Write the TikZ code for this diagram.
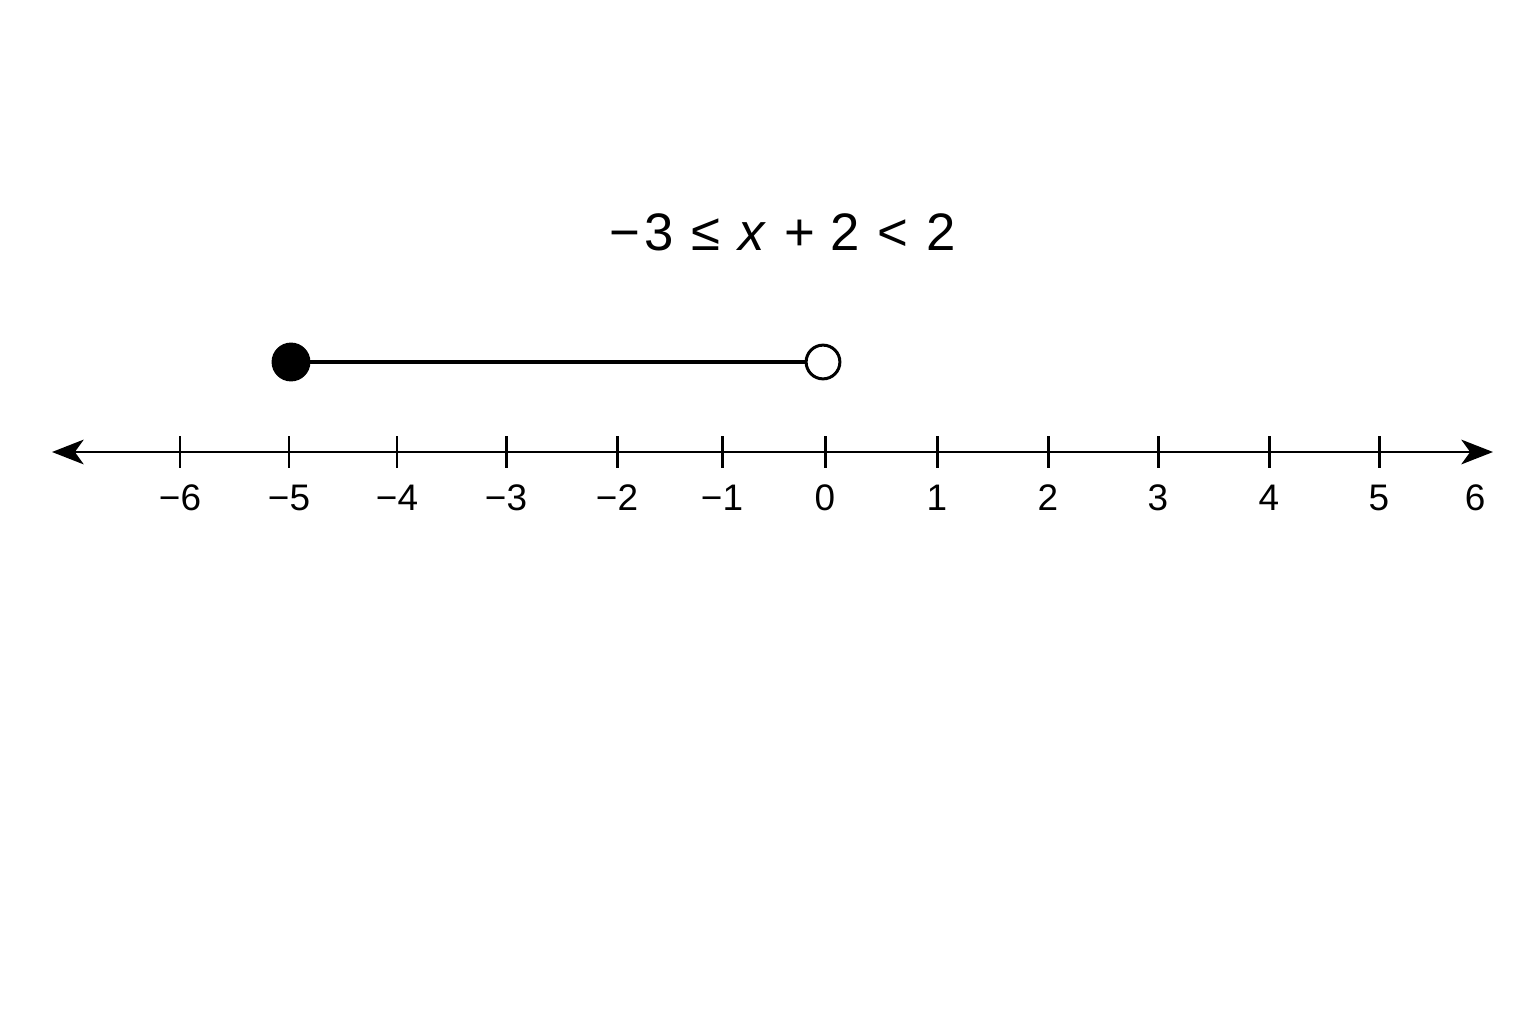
\documentclass[tikz,border=0pt]{standalone}
\usepackage{fontspec}
\setmainfont{Liberation Sans}
\usetikzlibrary{arrows.meta}
\begin{document}
\begin{tikzpicture}[x=0.01cm,y=-0.01cm]
        \tikzstyle{tickMark}=[line width=0.85pt]
        \tikzstyle{axisLine}=[{Stealth[length=9pt,width=7pt,inset=2.5pt]}-{Stealth[length=9pt,width=7pt,inset=2.5pt]}, line width=0.85pt]
        \tikzstyle{tickLabel}=[font=\fontsize{10.5}{12}\selectfont, inner sep=0pt]
        \tikzstyle{endPoint}=[draw,circle,line width=0.85pt,minimum size=9.6pt,inner sep=0pt]
    \useasboundingbox (0,0) rectangle (1536,1024);

    \node[font=\fontsize{15}{18}\selectfont] (ineq) at (783, 232) {−\hspace{1pt}3\hspace{1pt} ≤\hspace{1pt} \textit{x}\hspace{1pt} + 2\hspace{1pt} <\hspace{1pt} 2};

    \coordinate (left) at (52, 452);
    \coordinate (right) at (1493, 452);
    \draw[axisLine] (left) -- (right);

    \foreach \xp/\lab in {180/−6, 289/−5, 397/−4, 506/−3, 617/−2, 722/−1, 825/0, 937/1, 1048/2, 1158/3, 1269/4, 1379/5} {
        \draw[tickMark] (\xp, 436) -- (\xp, 468);
        \node[tickLabel] (t\xp) at (\xp, 498) {\lab};
    }
    \node[tickLabel] (t6) at (1475, 498) {6};

    \node[endPoint, fill=black, minimum size=10.2pt] (closed) at (291, 362) {};
    \node[endPoint, fill=white] (open) at (823, 362) {};
    \draw[line width=1pt] (closed) -- (open);
\end{tikzpicture}
\end{document}
